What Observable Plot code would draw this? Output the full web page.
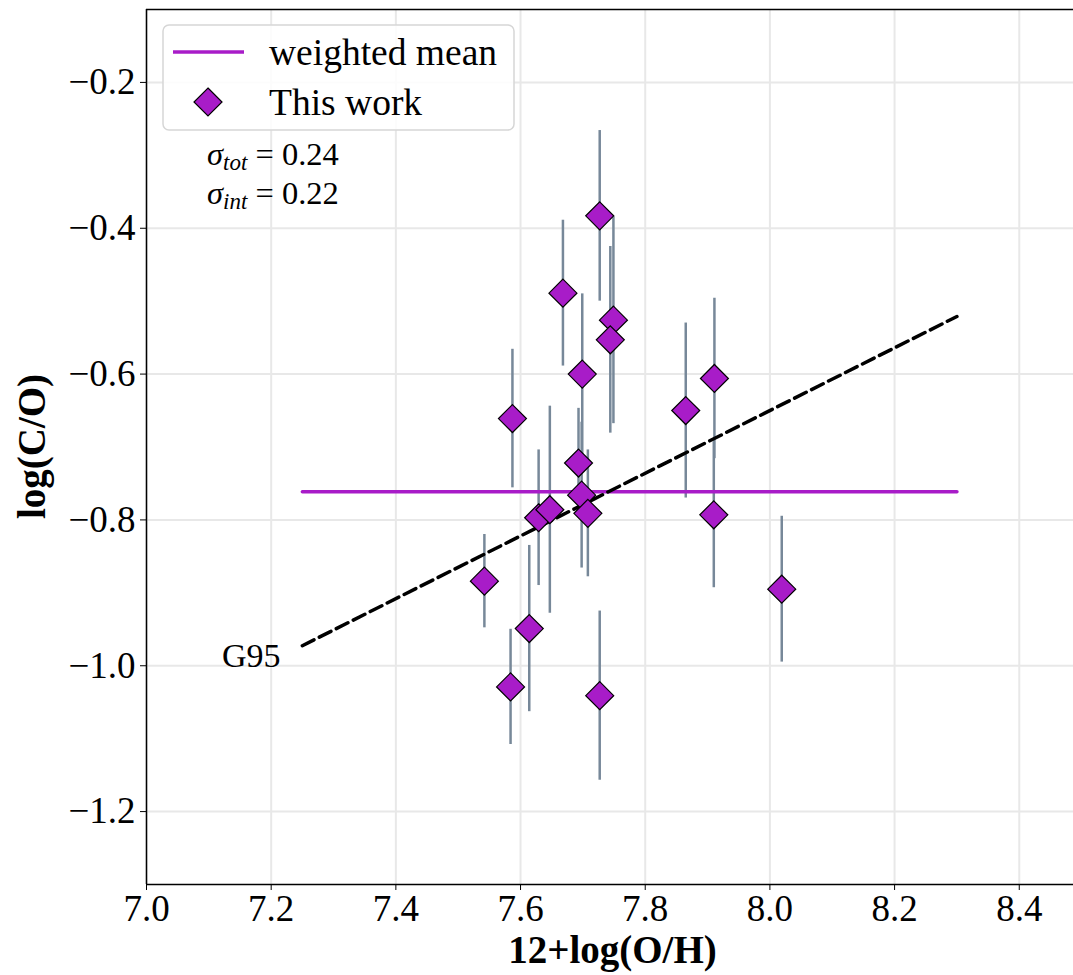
<!DOCTYPE html>
<html><head><meta charset="utf-8">
<script src="https://cdn.jsdelivr.net/npm/d3@7"></script>
<script src="https://cdn.jsdelivr.net/npm/@observablehq/plot@0.6"></script>
<style>body{margin:0;background:#fff}</style>
</head><body><div id="chart"></div>
<script>
// 12+log(O/H), log(C/O) and 1-sigma errors ("This work")
const oh    = [7.727, 7.668, 7.749, 7.744, 7.699, 7.587, 7.865, 7.911, 7.693, 7.698, 7.708, 7.629, 7.647, 7.542, 7.614, 7.584, 7.727, 7.910, 8.019];
const co    = [-0.383, -0.489, -0.526, -0.553, -0.600, -0.661, -0.650, -0.606, -0.722, -0.766, -0.791, -0.797, -0.786, -0.884, -0.949, -1.029, -1.041, -0.793, -0.895];
const coErr = [0.117, 0.100, 0.142, 0.128, 0.110, 0.095, 0.120, 0.110, 0.075, 0.100, 0.087, 0.093, 0.142, 0.064, 0.114, 0.079, 0.116, 0.100, 0.100];
// weighted mean line
const meanX = [7.25, 8.30];
const meanY = [-0.7614, -0.7614];
// G95 relation endpoints
const g95X = [7.25, 8.30];
const g95Y = [-0.9725, -0.521];
const g95LabelX = [7.215];
const g95LabelY = [-0.987];
const g95Label = ["G95"];
// ticks
const xTicks = [7.0, 7.2, 7.4, 7.6, 7.8, 8.0, 8.2, 8.4];
const yTicks = [-1.2, -1.0, -0.8, -0.6, -0.4, -0.2];
const legendLabels = ["weighted mean", "This work"];
const sigmaNames = ["tot", "int"];
const sigmaValues = ["0.24", "0.22"];
const xLabel = "12+log(O/H)";
const yLabel = "log(C/O)";

const purple = "#a81cc8";
const points = oh.map((x, i) => ({x, y: co[i], e: coErr[i]}));
const meanRows = meanX.map((x, i) => ({x, y: meanY[i]}));
const g95Rows = g95X.map((x, i) => ({x, y: g95Y[i]}));
const g95Rows2 = g95LabelX.map((x, i) => ({x, y: g95LabelY[i], t: g95Label[i]}));
const fmt = d3.format(".1f");
const font = "'Liberation Serif', 'DejaVu Serif', serif";

const chart = Plot.plot({
  width: 1073, height: 975,
  marginLeft: 146, marginRight: 0, marginTop: 9, marginBottom: 91,
  style: {fontFamily: font, fontSize: "37px", background: "white", color: "black"},
  x: {domain: [7.0, 8.487]},
  y: {domain: [-1.3, -0.1]},
  marks: [
    Plot.gridX(xTicks, {stroke: "#e8e8e8", strokeOpacity: 1, strokeWidth: 2}),
    Plot.gridY(yTicks, {stroke: "#e8e8e8", strokeOpacity: 1, strokeWidth: 2}),
    Plot.axisX({ticks: xTicks, tickFormat: fmt, tickSize: 6, tickPadding: 4, label: null, fontSize: 37}),
    Plot.axisY({ticks: yTicks, tickFormat: fmt, tickSize: 6, tickPadding: 5, label: null, fontSize: 37}),
    Plot.ruleX(points, {x: "x", y1: d => d.y - d.e, y2: d => d.y + d.e, stroke: "#778899", strokeWidth: 2.5}),
    Plot.line(meanRows, {x: "x", y: "y", stroke: purple, strokeWidth: 3.5}),
    Plot.line(g95Rows, {x: "x", y: "y", stroke: "black", strokeWidth: 3.5, strokeDasharray: "13,6"}),
    Plot.dot(points, {x: "x", y: "y", symbol: "diamond2", r: 12.6, fill: purple, stroke: "black", strokeWidth: 1.2}),
    Plot.text(g95Rows2, {x: "x", y: "y", text: "t", textAnchor: "end", fontSize: 34}),
    Plot.ruleX([7.0], {stroke: "black", strokeWidth: 1.5}),
    Plot.ruleY([-1.3], {stroke: "black", strokeWidth: 1.5}),
    Plot.ruleY([-0.1], {stroke: "black", strokeWidth: 1.5})
  ]
});
document.getElementById("chart").appendChild(chart);

const svg = d3.select(chart);
const sx = chart.scale("x"), sy = chart.scale("y");
const cx = (sx.range[0] + sx.range[1]) / 2;
const cy = (sy.range[0] + sy.range[1]) / 2;

// axis titles
svg.append("text").attr("x", cx + 3).attr("y", 963).attr("text-anchor", "middle")
  .attr("font-family", font).attr("font-weight", "bold").attr("font-size", 39).text(xLabel);
svg.append("text").attr("transform", `translate(45,${cy}) rotate(-90)`).attr("text-anchor", "middle")
  .attr("font-family", font).attr("font-weight", "bold").attr("font-size", 39).text(yLabel);

// legend
const lg = svg.append("g").attr("font-family", font).attr("font-size", 37.5).attr("text-anchor", "start");
lg.append("rect").attr("x", 163).attr("y", 25).attr("width", 351).attr("height", 105).attr("rx", 6)
  .attr("fill", "white").attr("fill-opacity", 0.85).attr("stroke", "#d6d6d6").attr("stroke-width", 1.5);
lg.append("line").attr("x1", 173).attr("x2", 244).attr("y1", 52).attr("y2", 52)
  .attr("stroke", purple).attr("stroke-width", 3.5);
lg.append("text").attr("x", 269).attr("y", 52).attr("dy", "0.35em").text(legendLabels[0]);
lg.append("path").attr("d", d3.symbol(d3.symbolDiamond2, 500)()).attr("transform", "translate(208,102)")
  .attr("fill", purple).attr("stroke", "black").attr("stroke-width", 1.2);
lg.append("text").attr("x", 269).attr("y", 102).attr("dy", "0.35em").text(legendLabels[1]);

// sigma annotation
const sg = svg.append("g").attr("font-family", font).attr("font-size", 32.5).attr("text-anchor", "start");
sigmaNames.forEach((n, i) => {
  const t = sg.append("text").attr("x", 207).attr("y", 165 + 39 * i);
  t.append("tspan").attr("font-style", "italic").text("σ");
  t.append("tspan").attr("font-style", "italic").attr("font-size", 23).attr("dy", 5).text(n);
  t.append("tspan").attr("dy", -5).text(" = " + sigmaValues[i]);
});
</script>
</body></html>
